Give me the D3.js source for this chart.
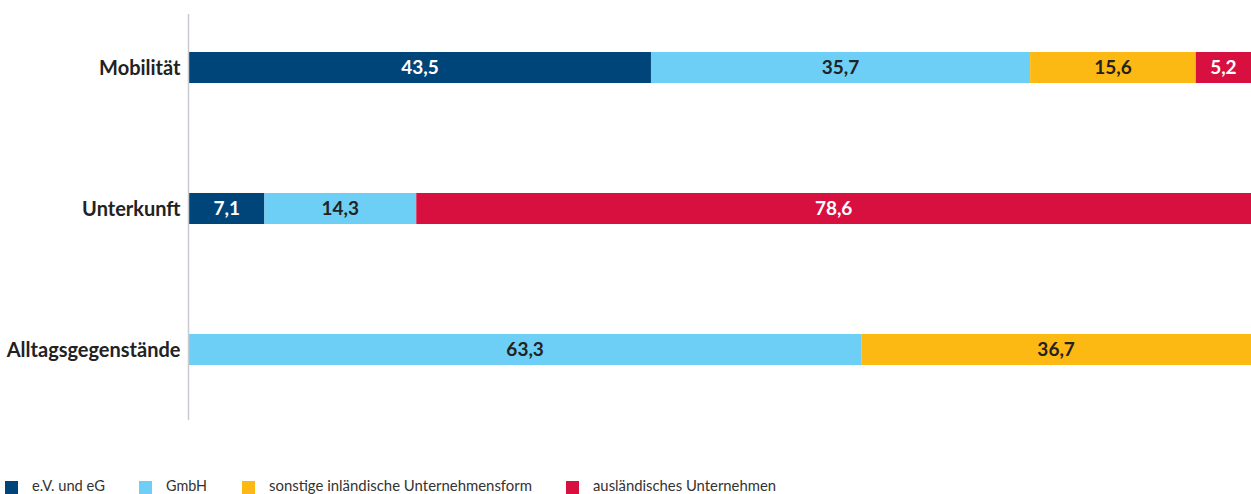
<!DOCTYPE html>
<html>
<head>
<meta charset="utf-8">
<script src="https://cdn.jsdelivr.net/npm/d3@7"></script>
<style>
  body { margin: 0; background: #fff; }
  svg { display: block; font-family: Lato, "Noto Sans", sans-serif; }
</style>
</head>
<body>
<svg id="chart" width="1251" height="494"></svg>
<script>
const categories = ["Mobilität", "Unterkunft", "Alltagsgegenstände"];
const seriesNames = ["e.V. und eG", "GmbH", "sonstige inländische Unternehmensform", "ausländisches Unternehmen"];
const seriesColors = ["#00457a", "#6dcff6", "#fcb913", "#d7103f"];
const labelColors = ["#fff", "#222", "#222", "#fff"];
// share per category, one array per series
const evUndEg = [43.5, 7.1, 0];
const gmbh = [35.7, 14.3, 63.3];
const sonstige = [15.6, 0, 36.7];
const auslaendisch = [5.2, 78.6, 0];

const values = [evUndEg, gmbh, sonstige, auslaendisch];
const rows = categories.map((c, i) => {
  const r = { cat: c };
  seriesNames.forEach((s, j) => r[s] = values[j][i]);
  return r;
});

const svg = d3.select("#chart");
const x = d3.scaleLinear().domain([0, 100]).range([189, 1251]);
const y = d3.scaleBand().domain(categories).range([-3, 420]).paddingInner(0.78).paddingOuter(0.39);

const stack = d3.stack().keys(seriesNames)(rows);

const layer = svg.selectAll("g.layer")
  .data(stack)
  .join("g")
  .attr("class", "layer")
  .attr("fill", (d, i) => seriesColors[i]);

layer.selectAll("rect")
  .data(d => d.filter(p => p[1] - p[0] > 0))
  .join("rect")
  .attr("x", d => x(d[0]))
  .attr("y", d => y(d.data.cat))
  .attr("width", d => x(d[1]) - x(d[0]))
  .attr("height", y.bandwidth());

layer.each(function (s, i) {
  d3.select(this).selectAll("text")
    .data(s.filter(p => p[1] - p[0] > 0))
    .join("text")
    .attr("x", d => (x(d[0]) + x(d[1])) / 2)
    .attr("y", d => y(d.data.cat) + y.bandwidth() / 2)
    .attr("dy", "0.36em")
    .attr("text-anchor", "middle")
    .attr("fill", labelColors[i])
    .style("font-size", "19px")
    .style("font-weight", "bold")
    .text(d => d3.format(".1f")(d[1] - d[0]).replace(".", ","));
});

// category axis
const yAxis = svg.append("g")
  .attr("transform", "translate(188.5,0)")
  .call(d3.axisLeft(y).tickSize(0).tickPadding(8));
yAxis.select(".domain").attr("d", "M0,14V420").attr("stroke", "#c8ccd0").attr("stroke-width", 1.5);
yAxis.selectAll("text")
  .attr("fill", "#222")
  .attr("dy", "0.36em")
  .style("font-size", "20px")
  .style("font-weight", "bold")
  .style("font-family", "Lato, 'Noto Sans', sans-serif");

// legend
const legendX = [5, 139, 242, 566];
const legendW = [73, 41, 263, 183];
const legend = svg.append("g");
seriesNames.forEach((s, i) => {
  legend.append("rect")
    .attr("x", legendX[i]).attr("y", 481)
    .attr("width", 13).attr("height", 13)
    .attr("fill", seriesColors[i]);
  legend.append("text")
    .attr("x", legendX[i] + 27).attr("y", 491)
    .attr("fill", "#333")
    .attr("textLength", legendW[i])
    .attr("lengthAdjust", "spacingAndGlyphs")
    .style("font-size", "15px")
    .text(s);
});
</script>
</body>
</html>
